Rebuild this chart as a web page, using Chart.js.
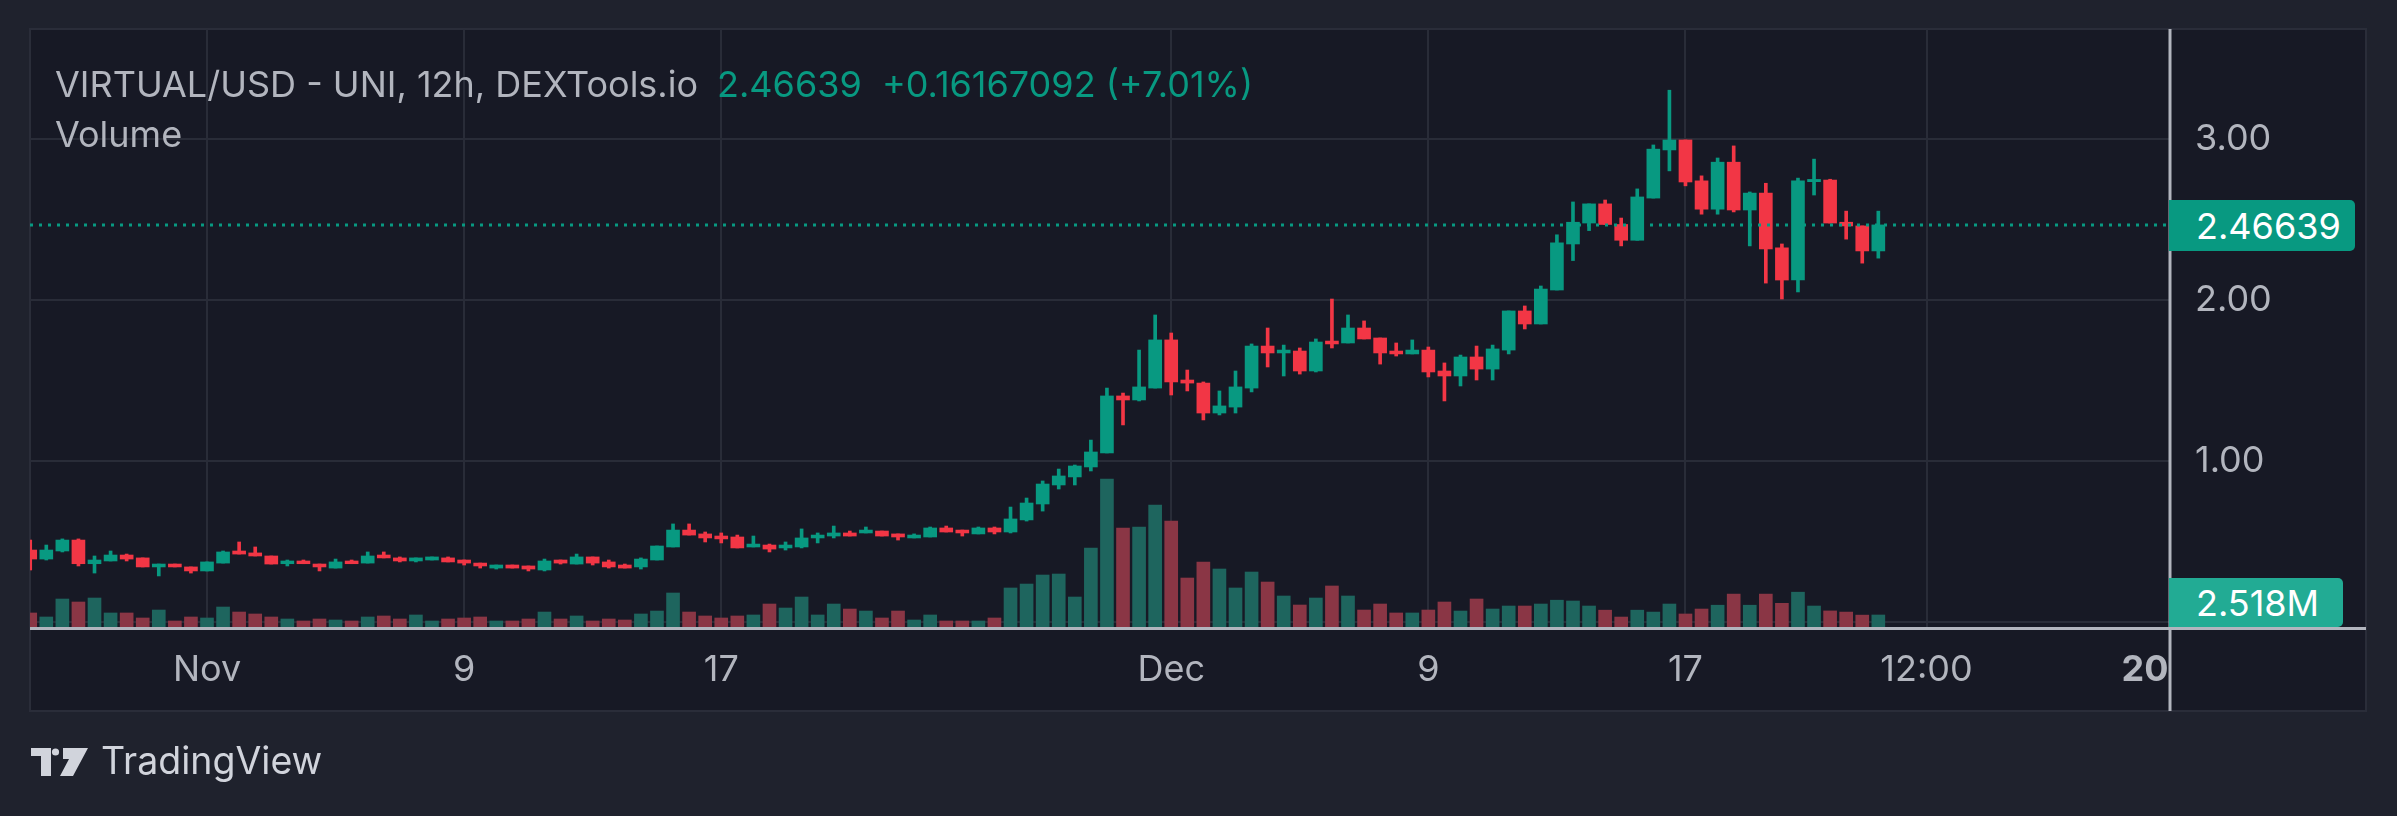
<!DOCTYPE html>
<html>
<head>
<meta charset="utf-8">
<title>VIRTUAL/USD - UNI, 12h</title>
<script src="https://cdn.jsdelivr.net/npm/chart.js@4.4.1/dist/chart.umd.min.js"></script>
<style>
  html, body { margin: 0; padding: 0; background: #1f222d; }
  #wrap { position: relative; width: 2397px; height: 816px; overflow: hidden; font-family: Inter, Roboto, sans-serif; }
  #chart { position: absolute; left: 0; top: 0; }
  .txt { position: absolute; white-space: nowrap; line-height: 1; }
  .legend { font-size: 36px; color: #b2b5be; }
  .up { color: #089981; }
  .tag { position: absolute; left: 2169px; color: #ffffff; font-size: 36px; line-height: 1;
         border-radius: 0 5px 5px 0; box-sizing: border-box; padding-left: 27px;
         display: flex; align-items: center; }
  #brand { position: absolute; left: 31px; top: 747px; }
  #brandText { font-size: 37.5px; color: #d1d4dc; }
</style>
</head>
<body>
<div id="wrap">
  <canvas id="chart" width="2397" height="816"></canvas>

  <div class="txt legend" style="left:55px; top:66px;">VIRTUAL/USD - UNI, 12h, DEXTools.io</div>
  <div class="txt legend up" style="left:717px; top:66px;">2.46639</div>
  <div class="txt legend up" style="left:882px; top:66px;">+0.16167092 (+7.01%)</div>
  <div class="txt legend" style="left:55px; top:116px;">Volume</div>

  <div class="tag" id="priceTag" style="top:200px; width:186px; height:51px; background:#089981;">2.46639</div>
  <div class="tag" id="volTag" style="top:578px; width:174px; height:49px; background:#22ab94;">2.518M</div>

  <svg id="brand" width="60" height="30" viewBox="0 0 60 30">
    <path d="M0 1 H20 V29 H10 V9 H0 Z" fill="#d1d4dc"/>
    <circle cx="24.5" cy="5" r="3.6" fill="#d1d4dc"/>
    <path d="M32 1 H57 L42 29 H29 L38 12 H32 Z" fill="#d1d4dc"/>
  </svg>
  <div class="txt" id="brandText" style="left:101px; top:742px;">TradingView</div>
</div>

<script>
// 12h bars, first (partly hidden) bar is Oct 26 12:00; x = bars from Nov 1 00:00
const firstBar = -11;

const opens = [
  0.447, 0.391, 0.441, 0.509, 0.362, 0.379, 0.416, 0.398, 0.342, 0.360, 0.342,
  0.317, 0.366, 0.441, 0.429, 0.410, 0.362, 0.379, 0.360, 0.335, 0.379,
  0.366, 0.416, 0.398, 0.379, 0.385, 0.398, 0.385, 0.366, 0.335, 0.354,
  0.348, 0.323, 0.385, 0.360, 0.404, 0.373, 0.354, 0.342, 0.385, 0.466,
  0.571, 0.547, 0.534, 0.528, 0.466, 0.478, 0.460, 0.466, 0.522, 0.534,
  0.553, 0.553, 0.565, 0.547, 0.522, 0.528, 0.584, 0.571, 0.547, 0.584,
  0.559, 0.634, 0.733, 0.851, 0.901, 0.963, 1.050, 1.404, 1.379, 1.453,
  1.752, 1.503, 1.484, 1.298, 1.335, 1.453, 1.714, 1.671, 1.683, 1.559,
  1.745, 1.733, 1.826, 1.764, 1.683, 1.665, 1.689, 1.559, 1.528, 1.646,
  1.571, 1.689, 1.932, 1.851, 2.062, 2.348, 2.478, 2.597, 2.469, 2.371,
  2.633, 2.932, 2.994, 2.740, 2.564, 2.856, 2.559, 2.664, 2.324, 2.124,
  2.735, 2.745, 2.483, 2.460, 2.30472
];
const highs = [
  0.509, 0.478, 0.516, 0.516, 0.410, 0.441, 0.422, 0.398, 0.360, 0.360, 0.342,
  0.373, 0.441, 0.497, 0.466, 0.410, 0.385, 0.385, 0.360, 0.391, 0.385,
  0.435, 0.435, 0.404, 0.398, 0.404, 0.404, 0.385, 0.366, 0.354, 0.354,
  0.348, 0.391, 0.385, 0.422, 0.404, 0.385, 0.360, 0.398, 0.472, 0.609,
  0.609, 0.559, 0.553, 0.540, 0.534, 0.484, 0.497, 0.578, 0.553, 0.596,
  0.565, 0.590, 0.565, 0.547, 0.547, 0.590, 0.596, 0.571, 0.590, 0.590,
  0.714, 0.770, 0.876, 0.950, 0.975, 1.130, 1.453, 1.422, 1.689, 1.907,
  1.795, 1.565, 1.491, 1.435, 1.559, 1.727, 1.826, 1.720, 1.702, 1.758,
  2.006, 1.907, 1.870, 1.764, 1.733, 1.752, 1.708, 1.609, 1.658, 1.714,
  1.720, 1.932, 1.963, 2.087, 2.405, 2.609, 2.597, 2.621, 2.509, 2.690,
  2.963, 3.303, 2.994, 2.771, 2.882, 2.957, 2.671, 2.725, 2.348, 2.757,
  2.875, 2.750, 2.552, 2.460, 2.552
];
const lows = [
  0.323, 0.385, 0.435, 0.348, 0.304, 0.379, 0.379, 0.342, 0.286, 0.342, 0.304,
  0.317, 0.366, 0.422, 0.410, 0.360, 0.348, 0.362, 0.317, 0.335, 0.362,
  0.366, 0.398, 0.373, 0.373, 0.385, 0.373, 0.354, 0.335, 0.329, 0.335,
  0.317, 0.317, 0.360, 0.360, 0.354, 0.335, 0.335, 0.329, 0.385, 0.466,
  0.540, 0.497, 0.491, 0.460, 0.466, 0.435, 0.447, 0.460, 0.491, 0.522,
  0.534, 0.553, 0.534, 0.509, 0.522, 0.528, 0.559, 0.534, 0.547, 0.547,
  0.553, 0.627, 0.689, 0.826, 0.851, 0.938, 1.050, 1.224, 1.373, 1.453,
  1.410, 1.435, 1.255, 1.286, 1.298, 1.429, 1.584, 1.528, 1.540, 1.553,
  1.702, 1.733, 1.758, 1.602, 1.652, 1.665, 1.522, 1.373, 1.466, 1.503,
  1.503, 1.665, 1.820, 1.851, 2.062, 2.245, 2.431, 2.469, 2.336, 2.371,
  2.633, 2.802, 2.709, 2.533, 2.533, 2.547, 2.336, 2.105, 2.006, 2.050,
  2.652, 2.478, 2.378, 2.229, 2.260
];
const closes = [
  0.391, 0.447, 0.509, 0.362, 0.385, 0.416, 0.391, 0.342, 0.360, 0.342, 0.317,
  0.373, 0.435, 0.422, 0.410, 0.360, 0.379, 0.362, 0.342, 0.373, 0.362,
  0.410, 0.398, 0.379, 0.398, 0.404, 0.373, 0.366, 0.348, 0.354, 0.335,
  0.329, 0.379, 0.366, 0.404, 0.366, 0.342, 0.335, 0.391, 0.472, 0.571,
  0.540, 0.522, 0.516, 0.460, 0.484, 0.453, 0.478, 0.522, 0.540, 0.553,
  0.534, 0.571, 0.534, 0.528, 0.540, 0.584, 0.559, 0.553, 0.584, 0.559,
  0.640, 0.739, 0.857, 0.907, 0.969, 1.056, 1.404, 1.379, 1.460, 1.752,
  1.491, 1.484, 1.298, 1.342, 1.460, 1.714, 1.671, 1.689, 1.559, 1.739,
  1.727, 1.826, 1.758, 1.671, 1.665, 1.689, 1.553, 1.528, 1.646, 1.571,
  1.696, 1.932, 1.851, 2.068, 2.355, 2.483, 2.597, 2.469, 2.371, 2.640,
  2.937, 2.994, 2.733, 2.564, 2.856, 2.559, 2.664, 2.317, 2.124, 2.740,
  2.749, 2.478, 2.460, 2.30472, 2.46639
];
// volume in millions
const volumes = [
  2.94, 2.10, 5.87, 5.24, 6.08, 2.94, 2.94, 1.89, 3.56, 1.26, 2.10,
  1.89, 4.19, 3.14, 2.73, 2.10, 1.68, 1.26, 1.68, 1.47, 1.26,
  2.10, 2.31, 1.68, 2.52, 1.26, 1.68, 1.89, 2.10, 1.26, 1.26,
  1.68, 3.14, 1.68, 2.31, 1.26, 1.68, 1.47, 2.73, 3.35, 7.13,
  3.14, 2.31, 1.89, 2.31, 2.52, 4.82, 3.98, 6.29, 2.52, 4.82,
  3.77, 3.35, 1.89, 3.35, 1.47, 2.52, 1.26, 1.26, 1.26, 1.89,
  8.18, 9.01, 10.90, 11.11, 6.29, 16.56, 31.03, 20.75, 20.96, 25.58,
  22.22, 10.27, 13.63, 12.16, 8.18, 11.53, 9.43, 6.50, 4.61, 6.08,
  8.60, 6.50, 3.56, 4.82, 2.94, 2.94, 3.56, 5.24, 3.35, 5.87,
  3.77, 4.40, 4.40, 4.82, 5.62, 5.45, 4.40, 3.53, 2.09, 3.53,
  3.13, 4.82, 2.73, 3.77, 4.57, 6.90, 4.57, 6.90, 4.97, 7.30,
  4.40, 3.37, 3.13, 2.49, 2.518
];

const lastPrice = 2.46639;

// time axis labels, positioned in bars from Nov 1
const timeTicks = [0, 16, 32, 60, 76, 92, 107, 120.6];
const timeTickLabels = ['Nov', '9', '17', 'Dec', '9', '17', '12:00', '20'];

const UP = '#089981';
const DOWN = '#f23645';
const UP_VOL = '#1e655e';
const DOWN_VOL = '#8a3645';
const GRID = '#292c38';
const AXIS_TXT = '#b2b5be';

const isUp = i => closes[i] >= opens[i];

const bodyData = opens.map((o, i) => ({ x: firstBar + i, y: [o, closes[i]] }));
const wickData = lows.map((l, i) => ({ x: firstBar + i, y: [l, highs[i]] }));
const volData = volumes.map((v, i) => ({ x: firstBar + i, y: v }));

// keep the axes from pushing the plot area in for their edge labels
function noEdgePadding(s) {
  s.paddingTop = 0;
  s.paddingBottom = 0;
  s.paddingLeft = 0;
  s.paddingRight = 0;
}

// pane background, frame, last price line and axis lines
const panePlugin = {
  id: 'pane',
  beforeDraw(chart) {
    const ctx = chart.ctx;
    ctx.save();
    ctx.fillStyle = '#171925';
    ctx.fillRect(30, 29, 2336, 682);
    ctx.strokeStyle = '#2a2d39';
    ctx.lineWidth = 2;
    ctx.strokeRect(30, 29, 2336, 682);
    ctx.restore();
  },
  afterDatasetsDraw(chart) {
    const { ctx, chartArea, scales } = chart;
    const y = Math.round(scales.y.getPixelForValue(lastPrice));
    ctx.save();
    ctx.strokeStyle = UP;
    ctx.lineWidth = 3;
    ctx.setLineDash([3, 6]);
    ctx.beginPath();
    ctx.moveTo(chartArea.left, y);
    ctx.lineTo(chartArea.right, y);
    ctx.stroke();
    ctx.setLineDash([]);
    ctx.strokeStyle = AXIS_TXT;
    ctx.lineWidth = 3;
    ctx.beginPath();
    ctx.moveTo(chartArea.right, 29);
    ctx.lineTo(chartArea.right, 711);
    ctx.stroke();
    ctx.beginPath();
    ctx.moveTo(30, chartArea.bottom + 1.5);
    ctx.lineTo(2366, chartArea.bottom + 1.5);
    ctx.stroke();
    ctx.restore();
  }
};

Chart.defaults.font.family = 'Inter, Roboto, sans-serif';

new Chart(document.getElementById('chart'), {
  type: 'bar',
  data: {
    datasets: [
      {
        label: 'body',
        data: bodyData,
        backgroundColor: ctx => isUp(ctx.dataIndex) ? UP : DOWN,
        borderWidth: 0,
        barThickness: 13,
        grouped: false,
        order: 1,
        yAxisID: 'y'
      },
      {
        label: 'wick',
        data: wickData,
        backgroundColor: ctx => isUp(ctx.dataIndex) ? UP : DOWN,
        borderWidth: 0,
        barThickness: 3,
        grouped: false,
        order: 2,
        yAxisID: 'y'
      },
      {
        label: 'Volume',
        data: volData,
        backgroundColor: ctx => isUp(ctx.dataIndex) ? UP_VOL : DOWN_VOL,
        borderWidth: 0,
        barThickness: 13,
        grouped: false,
        order: 3,
        yAxisID: 'vol'
      }
    ]
  },
  options: {
    responsive: false,
    animation: false,
    devicePixelRatio: 1,
    layout: { padding: { left: 30, top: 29, right: 31, bottom: 105 } },
    plugins: {
      legend: { display: false },
      tooltip: { enabled: false }
    },
    scales: {
      x: {
        type: 'linear',
        min: -11.014,
        max: 122.15,
        offset: false,
        afterFit: s => { s.height = 84; noEdgePadding(s); },
        afterBuildTicks: s => { s.ticks = timeTicks.map(v => ({ value: v })); },
        grid: {
          offset: false,
          drawTicks: false,
          lineWidth: 2,
          color: ctx => (ctx.tick && ctx.tick.value > 110) ? 'rgba(0,0,0,0)' : GRID
        },
        border: { display: false },
        ticks: {
          autoSkip: false,
          maxRotation: 0,
          padding: 22,
          color: AXIS_TXT,
          font: ctx => ({ size: 36, weight: (ctx.tick && ctx.tick.value > 110) ? 'bold' : 'normal' }),
          callback: (v, i) => timeTickLabels[i]
        }
      },
      y: {
        type: 'linear',
        position: 'right',
        min: -0.0311,
        max: 3.6832,
        afterFit: s => { s.width = 196; noEdgePadding(s); },
        grid: { drawTicks: false, lineWidth: 2, color: GRID },
        border: { display: false },
        ticks: {
          stepSize: 1,
          includeBounds: false,
          padding: 25,
          color: AXIS_TXT,
          font: { size: 36 },
          callback: v => v >= 1 ? v.toFixed(2) : ''
        }
      },
      vol: {
        type: 'linear',
        display: false,
        min: 0,
        max: 125.4,
        afterFit: noEdgePadding
      }
    }
  },
  plugins: [panePlugin]
});
</script>
</body>
</html>
